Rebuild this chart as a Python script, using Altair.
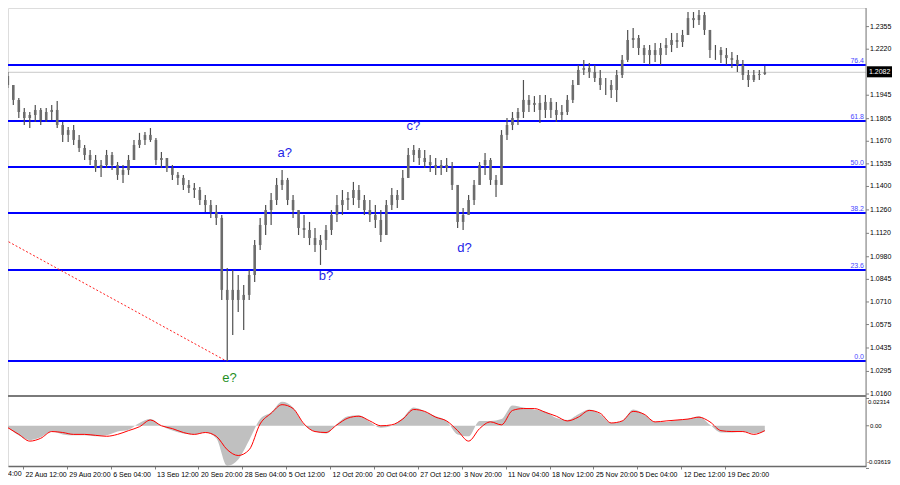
import altair as alt
import pandas as pd

# ---------------- data ----------------
# candles: one candle per 4 H4 bars, bar index of candle j = 2 + 4*j
first_open = 1.2060
highs = [1.2084, 1.2006, 1.1928, 1.1869, 1.1845, 1.1887, 1.1869, 1.1869, 1.1887, 1.1911,
         1.1785, 1.1755, 1.1767, 1.1708, 1.1648, 1.1618, 1.1588, 1.1558, 1.1618, 1.1606,
         1.1546, 1.1528, 1.1588, 1.1678, 1.1720, 1.1725, 1.1749, 1.1690, 1.1606, 1.1570,
         1.1528, 1.1487, 1.1469, 1.1439, 1.1421, 1.1397, 1.1349, 1.1319, 1.1289, 1.1230,
         1.0913, 1.0901, 1.0871, 1.0811, 1.0901, 1.1080, 1.1212, 1.1289, 1.1361, 1.1451,
         1.1498, 1.1451, 1.1349, 1.1259, 1.1230, 1.1188, 1.1152, 1.1110, 1.1170, 1.1259,
         1.1349, 1.1379, 1.1367, 1.1427, 1.1409, 1.1349, 1.1319, 1.1289, 1.1259, 1.1319,
         1.1391, 1.1379, 1.1498, 1.1630, 1.1648, 1.1630, 1.1618, 1.1588, 1.1570, 1.1558,
         1.1570, 1.1546, 1.1409, 1.1271, 1.1349, 1.1439, 1.1546, 1.1600, 1.1570, 1.1469,
         1.1737, 1.1809, 1.1845, 1.1869, 1.2036, 1.1946, 1.1940, 1.1946, 1.1946, 1.1928,
         1.1905, 1.1887, 1.1946, 1.2036, 1.2126, 1.2156, 1.2138, 1.2126, 1.2096, 1.2048,
         1.2036, 1.2096, 1.2185, 1.2335, 1.2347, 1.2305, 1.2245, 1.2245, 1.2257, 1.2257,
         1.2287, 1.2317, 1.2317, 1.2335, 1.2442, 1.2442, 1.2454, 1.2442, 1.2335, 1.2245,
         1.2233, 1.2227, 1.2203, 1.2185, 1.2156, 1.2096, 1.2096, 1.2096, 1.2120]
lows = [1.1988, 1.1887, 1.1809, 1.1767, 1.1749, 1.1785, 1.1767, 1.1785, 1.1797, 1.1749,
        1.1666, 1.1666, 1.1648, 1.1606, 1.1558, 1.1528, 1.1487, 1.1457, 1.1510, 1.1498,
        1.1439, 1.1421, 1.1469, 1.1558, 1.1630, 1.1648, 1.1666, 1.1528, 1.1510, 1.1487,
        1.1439, 1.1409, 1.1379, 1.1361, 1.1331, 1.1289, 1.1248, 1.1212, 1.1170, 1.0722,
        1.0357, 1.0513, 1.0650, 1.0543, 1.0722, 1.0829, 1.1021, 1.1110, 1.1170, 1.1289,
        1.1379, 1.1289, 1.1212, 1.1110, 1.1092, 1.1050, 1.1009, 1.0931, 1.1021, 1.1110,
        1.1188, 1.1230, 1.1259, 1.1289, 1.1271, 1.1230, 1.1188, 1.1152, 1.1068, 1.1140,
        1.1259, 1.1271, 1.1319, 1.1451, 1.1546, 1.1528, 1.1510, 1.1487, 1.1469, 1.1469,
        1.1487, 1.1379, 1.1152, 1.1140, 1.1230, 1.1289, 1.1409, 1.1469, 1.1409, 1.1337,
        1.1409, 1.1678, 1.1737, 1.1767, 1.1809, 1.1845, 1.1845, 1.1779, 1.1809, 1.1809,
        1.1785, 1.1797, 1.1827, 1.1899, 1.2006, 1.2066, 1.2048, 1.2024, 1.1976, 1.1946,
        1.1928, 1.1905, 1.2048, 1.2144, 1.2227, 1.2185, 1.2138, 1.2126, 1.2144, 1.2126,
        1.2185, 1.2203, 1.2227, 1.2233, 1.2305, 1.2347, 1.2365, 1.2305, 1.2167, 1.2156,
        1.2138, 1.2126, 1.2108, 1.2084, 1.2036, 1.1994, 1.2024, 1.2036, 1.2066]
closes = [1.2006, 1.1917, 1.1845, 1.1809, 1.1827, 1.1857, 1.1797, 1.1845, 1.1857, 1.1767,
          1.1708, 1.1737, 1.1678, 1.1630, 1.1588, 1.1558, 1.1510, 1.1528, 1.1588, 1.1528,
          1.1469, 1.1498, 1.1558, 1.1648, 1.1678, 1.1708, 1.1678, 1.1558, 1.1570, 1.1510,
          1.1469, 1.1451, 1.1409, 1.1391, 1.1379, 1.1319, 1.1289, 1.1248, 1.1212, 1.0782,
          1.0722, 1.0782, 1.0722, 1.0752, 1.0871, 1.1050, 1.1170, 1.1259, 1.1319, 1.1409,
          1.1439, 1.1319, 1.1259, 1.1152, 1.1140, 1.1092, 1.1050, 1.1080, 1.1140, 1.1230,
          1.1289, 1.1319, 1.1331, 1.1379, 1.1319, 1.1259, 1.1230, 1.1200, 1.1110, 1.1289,
          1.1349, 1.1319, 1.1451, 1.1588, 1.1618, 1.1570, 1.1546, 1.1528, 1.1510, 1.1528,
          1.1510, 1.1409, 1.1188, 1.1230, 1.1319, 1.1409, 1.1528, 1.1558, 1.1439, 1.1409,
          1.1708, 1.1767, 1.1809, 1.1845, 1.1917, 1.1887, 1.1899, 1.1857, 1.1905, 1.1857,
          1.1827, 1.1845, 1.1917, 1.2006, 1.2096, 1.2108, 1.2084, 1.2048, 1.2006, 1.2006,
          1.1976, 1.2066, 1.2156, 1.2275, 1.2287, 1.2227, 1.2185, 1.2215, 1.2185, 1.2227,
          1.2245, 1.2275, 1.2263, 1.2305, 1.2406, 1.2394, 1.2424, 1.2335, 1.2215, 1.2215,
          1.2185, 1.2167, 1.2156, 1.2126, 1.2066, 1.2036, 1.2066, 1.2072, 1.2082]

current_price = 1.2082
price_ticks = [1.2355, 1.2220, 1.1945, 1.1805, 1.1670, 1.1535, 1.1400, 1.1260, 1.1120,
               1.0980, 1.0845, 1.0710, 1.0575, 1.0435, 1.0295, 1.0160]

fib_names = ["0.0", "23.6", "38.2", "50.0", "61.8", "76.4"]
fib_prices = [1.0357, 1.0901, 1.1242, 1.1516, 1.1791, 1.2126]

trend_bars = [0.0, 161.4]
trend_prices = [1.1081, 1.0357]

wave_labels = ["a?", "b?", "c?", "d?", "e?"]
wave_bars = [204.0, 234.0, 297.7, 335.0, 163.6]
wave_prices = [1.1600, 1.0866, 1.1762, 1.1033, 1.0257]
wave_colors = ["#2424e8", "#2424e8", "#2424e8", "#2424e8", "#1f8f1f"]

# MACD sampled every 8 bars, bar index = 2 + 8*k
macd_hist = [-0.0016, -0.0081, -0.0122, -0.0098, -0.0049, -0.0073, -0.0081, -0.0081, -0.0089, -0.0081,
             -0.0049, -0.0033, 0.0024, 0.0057, 0.0000, -0.0041, -0.0065, -0.0073, -0.0057, -0.0106,
             -0.0340, -0.0285, -0.0122, 0.0057, 0.0114, 0.0203, 0.0154, 0.0008, -0.0049, -0.0065,
             0.0016, 0.0081, 0.0089, 0.0033, -0.0016, 0.0000, 0.0065, 0.0154, 0.0122, 0.0081,
             0.0041, -0.0073, -0.0089, 0.0041, 0.0041, 0.0057, 0.0171, 0.0154, 0.0138, 0.0122,
             0.0065, 0.0049, 0.0098, 0.0138, 0.0098, 0.0024, 0.0041, 0.0138, 0.0098, 0.0033,
             0.0033, 0.0049, 0.0057, 0.0081, 0.0008, -0.0057, -0.0057, -0.0049, -0.0065, -0.0049]
macd_signal = [-0.0016, -0.0073, -0.0130, -0.0106, -0.0049, -0.0057, -0.0073, -0.0073, -0.0081, -0.0089,
               -0.0073, -0.0041, -0.0008, 0.0049, 0.0000, -0.0024, -0.0057, -0.0073, -0.0057, -0.0089,
               -0.0203, -0.0252, -0.0203, 0.0016, 0.0106, 0.0179, 0.0146, 0.0016, -0.0049, -0.0057,
               0.0008, 0.0065, 0.0081, 0.0041, 0.0000, 0.0008, 0.0057, 0.0138, 0.0122, 0.0073,
               0.0041, -0.0041, -0.0130, -0.0024, 0.0033, 0.0008, 0.0130, 0.0146, 0.0146, 0.0114,
               0.0081, 0.0041, 0.0073, 0.0130, 0.0106, 0.0024, 0.0041, 0.0122, 0.0098, 0.0033,
               0.0041, 0.0049, 0.0057, 0.0073, 0.0033, -0.0041, -0.0049, -0.0049, -0.0073, -0.0041]
macd_top = 0.02314
macd_bottom = -0.03619

time_labels = ["22 Aug 12:00", "29 Aug 20:00", "6 Sep 04:00", "13 Sep 12:00", "20 Sep 20:00",
               "28 Sep 04:00", "5 Oct 12:00", "12 Oct 20:00", "20 Oct 04:00", "27 Oct 12:00",
               "3 Nov 20:00", "11 Nov 04:00", "18 Nov 12:00", "25 Nov 20:00", "5 Dec 04:00",
               "12 Dec 12:00", "19 Dec 20:00"]
time_label_bars = [13 + 32 * k for k in range(len(time_labels))]
cut_label = "4:00"   # tail of the label that runs off the left edge

# ---------------- tables ----------------
opens = [first_open] + closes[:-1]
candles = pd.DataFrame({
    "bar": [2 + 4 * j for j in range(len(closes))],
    "open": opens,
    "close": closes,
    "high": [max(h, o, c) for h, o, c in zip(highs, opens, closes)],
    "low": [min(l, o, c) for l, o, c in zip(lows, opens, closes)],
})
fib = pd.DataFrame({"name": fib_names, "price": fib_prices})
trend = pd.DataFrame({"bar": trend_bars, "price": trend_prices})
waves = pd.DataFrame({"label": wave_labels, "bar": wave_bars, "price": wave_prices,
                      "color": wave_colors})
macd = pd.DataFrame({"bar": [2 + 8 * k for k in range(len(macd_hist))],
                     "hist": macd_hist, "signal": macd_signal})
ticks = pd.DataFrame({"price": price_ticks, "txt": [f"{v:.4f}" for v in price_ticks]})
macd_lab = pd.DataFrame({"v": [macd_top, 0.0, macd_bottom],
                         "txt": [f"{macd_top:.5f}", "0.00", f"{macd_bottom:.5f}"]})

# ---------------- layout ----------------
W = 858            # plot width (px)
H_MAIN = 387       # price panel height
M_TOP = 389        # top of MACD panel
H = 458            # total view height (bottom of MACD panel)
FONT = "Liberation Sans"
AX = "#808080"

xscale = alt.Scale(domain=[5.77, 5.77 + W / 1.3875], nice=False, zero=False)
yscale = alt.Scale(domain=[1.01542, 1.24661], range=[H_MAIN, 0], nice=False, zero=False)
mscale = alt.Scale(domain=[-0.0341, 0.0244], range=[H, M_TOP], nice=False, zero=False)

label_expr = "[" + ",".join(f"'{t}'" for t in time_labels) + "][round((datum.value - 13) / 32)]"
time_axis = alt.Axis(values=time_label_bars, labelExpr=label_expr, title=None, grid=False,
                     labelAlign="left", labelBaseline="top", labelOffset=2, labelPadding=1,
                     labelFontSize=7, labelFont=FONT, labelColor="#000000",
                     tickSize=3, tickColor=AX, domainColor="#6a6a6a", domainWidth=1.5,
                     labelOverlap=False, labelFlush=False)

X = lambda f="bar": alt.X(f"{f}:Q", scale=xscale, axis=time_axis)
Yp = lambda f: alt.Y(f"{f}:Q", scale=yscale, axis=None)
Ym = lambda f: alt.Y(f"{f}:Q", scale=mscale, axis=None)

fib_rules = alt.Chart(fib).mark_rule(color="#0000ff", strokeWidth=2).encode(
    y=Yp("price"), x=alt.value(0), x2=alt.value(W))

cur_line = alt.Chart(pd.DataFrame({"price": [current_price]})).mark_rule(
    color="#c8c8c8", strokeWidth=1).encode(y=Yp("price"), x=alt.value(0), x2=alt.value(W))

wicks = alt.Chart(candles).mark_rule(color="#505050", strokeWidth=1.2, clip=True).encode(
    x=X(), y=Yp("high"), y2="low:Q")

bodies = alt.Chart(candles).mark_bar(width=2.6, color="#6c6c6c", clip=True).encode(
    x=X(), y=Yp("open"), y2="close:Q")

trend_line = alt.Chart(trend).mark_line(color="#ff2020", strokeWidth=1, strokeDash=[2, 2],
                                        clip=True).encode(x=X(), y=Yp("price"))

fib_text = alt.Chart(fib).mark_text(align="right", baseline="bottom", dy=-1, fontSize=7,
                                    font=FONT, color="#4848ff").encode(
    y=Yp("price"), x=alt.value(W - 2), text="name:N")

wave_text = alt.Chart(waves).mark_text(fontSize=13, font=FONT, baseline="middle").encode(
    x=X(), y=Yp("price"), text="label:N", color=alt.Color("color:N", scale=None))

# right price scale: axis line, ticks and labels
axis_line = alt.Chart(pd.DataFrame({"v": [0]})).mark_rule(color=AX, strokeWidth=1).encode(
    x=alt.value(W), y=alt.value(0), y2=alt.value(H))
price_tick_marks = alt.Chart(ticks).mark_rule(color=AX).encode(
    y=Yp("price"), x=alt.value(W), x2=alt.value(W + 3))
price_labels = alt.Chart(ticks).mark_text(align="left", baseline="middle", fontSize=7,
                                          font=FONT, color="#000000").encode(
    y=Yp("price"), x=alt.value(W + 4), text="txt:N")

price_box = alt.Chart(pd.DataFrame({"top": [1.2118], "bot": [1.2052]})).mark_rect(
    color="#000000").encode(y=Yp("top"), y2="bot:Q", x=alt.value(W + 1), x2=alt.value(W + 26))
price_text = alt.Chart(pd.DataFrame({"price": [current_price],
                                     "txt": [f"{current_price:.4f}"]})).mark_text(
    align="left", baseline="middle", fontSize=7, font=FONT, color="#ffffff").encode(
    y=Yp("price"), x=alt.value(W + 3), text="txt:N")

# ---------------- MACD panel ----------------
sep = alt.Chart(pd.DataFrame({"v": [0]})).mark_rule(color="#7a7a7a", strokeWidth=2).encode(
    y=alt.value(M_TOP - 1), x=alt.value(0), x2=alt.value(W))

hist = alt.Chart(macd).mark_area(color="#c0c0c0", interpolate="monotone").encode(
    x=X(), y=Ym("hist"), y2=alt.datum(0))

sig = alt.Chart(macd).mark_line(color="#ff0000", strokeWidth=1, interpolate="monotone").encode(
    x=X(), y=Ym("signal"))

macd_tick_marks = alt.Chart(macd_lab).mark_rule(color=AX).encode(
    y=Ym("v"), x=alt.value(W), x2=alt.value(W + 3))
macd_top_lab = alt.Chart(macd_lab.iloc[[0]]).mark_text(
    align="left", baseline="top", dy=1, fontSize=6, font=FONT, color="#000000").encode(
    y=Ym("v"), x=alt.value(W + 2), text="txt:N")
macd_mid_lab = alt.Chart(macd_lab.iloc[[1]]).mark_text(
    align="left", baseline="middle", fontSize=6, font=FONT, color="#000000").encode(
    y=Ym("v"), x=alt.value(W + 4), text="txt:N")
macd_bot_lab = alt.Chart(macd_lab.iloc[[2]]).mark_text(
    align="left", baseline="bottom", dy=-3, fontSize=6, font=FONT, color="#000000").encode(
    y=Ym("v"), x=alt.value(W + 1), text="txt:N")

cut_text = alt.Chart(pd.DataFrame({"txt": [cut_label]})).mark_text(
    align="left", baseline="top", fontSize=7, font=FONT, color="#000000").encode(
    x=alt.value(0), y=alt.value(H + 4), text="txt:N")

chart = alt.layer(
    fib_rules, cur_line, trend_line, wicks, bodies, fib_text, wave_text,
    hist, sig, sep,
    axis_line, price_tick_marks, price_labels, price_box, price_text,
    macd_tick_marks, macd_top_lab, macd_mid_lab, macd_bot_lab, cut_text,
).resolve_scale(y="independent").properties(
    width=W, height=H,
    autosize=alt.AutoSizeParams(type="none"),
    padding={"left": 0, "top": 0, "right": 26, "bottom": 11},
).configure_view(stroke=None).configure(background="#ffffff")

chart.save("out.html", embed_options={"renderer": "svg", "actions": False})
